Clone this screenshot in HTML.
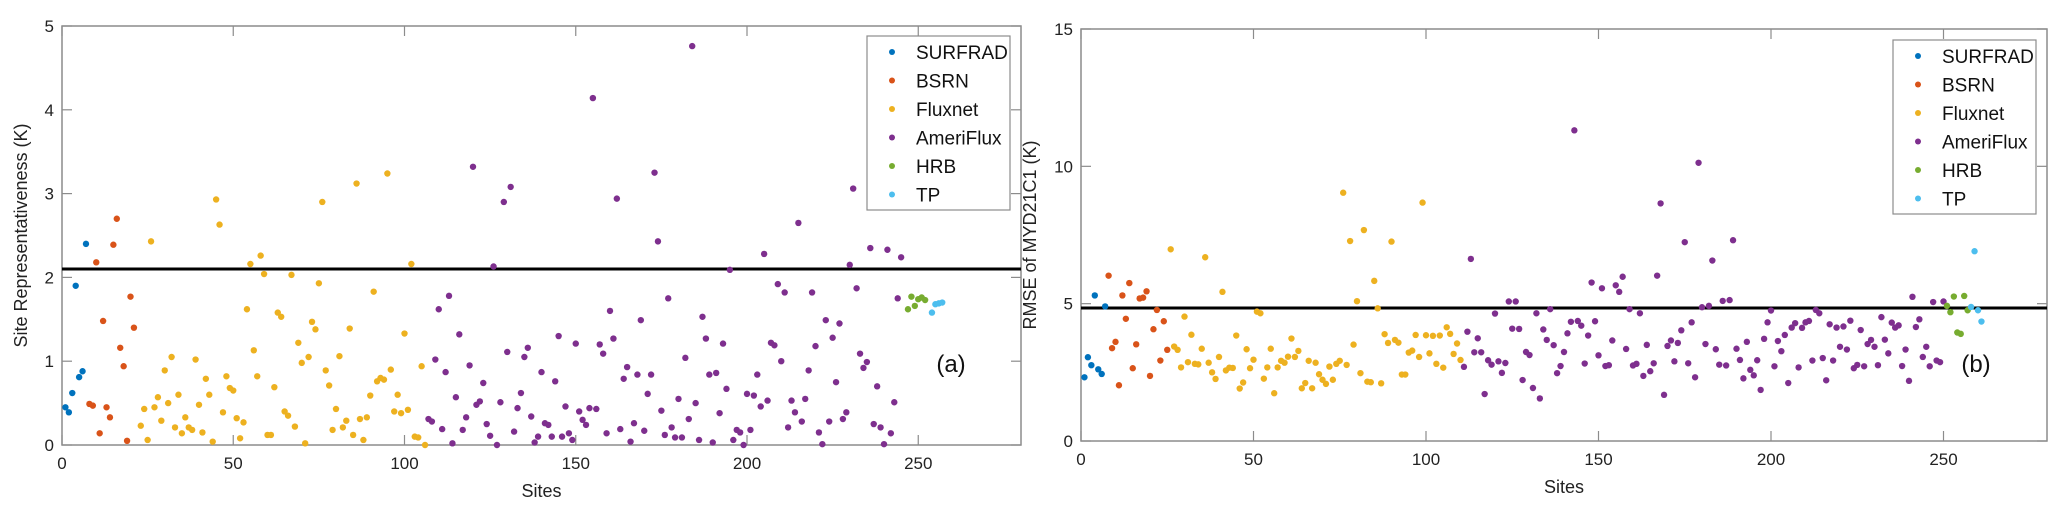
<!DOCTYPE html>
<html><head><meta charset="utf-8"><style>
html,body{margin:0;padding:0;background:#fff;}
svg{display:block;font-family:"Liberation Sans",sans-serif;}
</style></head><body>
<svg id="chart" width="2067" height="515" viewBox="0 0 2067 515"></svg>
<script>
// ---- Panel (a) data: site representativeness ----
const seriesNames = ["SURFRAD","BSRN","Fluxnet","AmeriFlux","HRB","TP"];
const seriesColors = ["#0072BD","#D95319","#EDB120","#7E2F8E","#77AC30","#4DBEEE"];
const aStarts = [1,8,23,107,247,254];
const aSurfrad = [0.45,0.39,0.62,1.9,0.81,0.88,2.4];
const aBsrn = [0.49,0.47,2.18,0.14,1.48,0.45,0.33,2.39,2.7,1.16,0.94,0.05,1.77,1.4];
const aFluxnet = [0.23,0.43,0.06,2.43,0.45,0.57,0.29,0.89,0.5,1.05,0.21,0.6,0.14,0.33,0.21,0.18,1.02,0.48,0.15,0.79,0.6,0.04,2.93,2.63,0.39,0.82,0.68,0.65,0.32,0.08,0.27,1.62,2.16,1.13,0.82,2.26,2.04,0.12,0.12,0.69,1.58,1.53,0.4,0.35,2.03,0.22,1.22,0.98,0.02,1.05,1.47,1.38,1.93,2.9,0.89,0.71,0.18,0.43,1.06,0.21,0.29,1.39,0.12,3.12,0.31,0.06,0.33,0.59,1.83,0.76,0.8,0.78,3.24,0.9,0.4,0.6,0.38,1.33,0.42,2.16,0.1,0.09,0.94,0.0];
const aAmeriflux = [0.31,0.28,1.02,1.62,0.19,0.87,1.78,0.02,0.57,1.32,0.18,0.33,0.95,3.32,0.48,0.52,0.74,0.25,0.11,2.13,0.0,0.51,2.9,1.11,3.08,0.16,0.44,0.62,1.05,1.16,0.34,0.03,0.1,0.87,0.26,0.24,0.1,0.76,1.3,0.1,0.46,0.14,0.06,1.21,0.4,0.3,0.24,0.44,4.14,0.43,1.2,1.09,0.14,1.6,1.27,2.94,0.19,0.79,0.93,0.04,0.26,0.84,1.49,0.17,0.61,0.84,3.25,2.43,0.41,0.12,1.75,0.21,0.09,0.55,0.09,1.04,0.31,4.76,0.5,0.06,1.53,1.27,0.84,0.03,0.86,0.38,1.21,0.67,2.09,0.06,0.18,0.15,0.0,0.61,0.18,0.59,0.84,0.46,2.28,0.53,1.22,1.19,1.92,1.0,1.82,0.21,0.53,0.39,2.65,0.28,0.55,0.89,1.82,1.18,0.15,0.01,1.49,0.28,1.28,0.75,1.45,0.31,0.39,2.15,3.06,1.87,1.09,0.92,0.99,2.35,0.25,0.7,0.21,0.01,2.33,0.14,0.51,1.75,2.24];
const aHrb = [1.62,1.77,1.66,1.74,1.76,1.73];
const aTp = [1.58,1.68,1.69,1.70];
const aThreshold = 2.1;
const aYTicks = [0,1,2,3,4,5];

// ---- Panel (b) data: RMSE of MYD21C1 ----
const bStarts = [1,8,26,111,251,258];
const bSurfrad = [2.32,3.05,2.76,5.3,2.61,2.44,4.9];
const bBsrn = [6.02,3.38,3.61,2.03,5.3,4.45,5.75,2.65,3.52,5.19,5.22,5.45,2.37,4.07,4.77,2.93,4.36,3.32];
const bFluxnet = [6.98,3.44,3.32,2.68,4.53,2.87,3.87,2.81,2.79,3.36,6.69,2.85,2.5,2.26,3.06,5.43,2.57,2.67,2.66,3.84,1.91,2.13,3.34,2.65,2.96,4.71,4.65,2.27,2.68,3.36,1.74,2.68,2.92,2.85,3.07,3.73,3.06,3.28,1.92,2.11,2.92,1.92,2.85,2.43,2.23,2.08,2.71,2.23,2.81,2.92,9.04,2.77,7.28,3.51,5.09,2.47,7.68,2.16,2.14,5.83,4.83,2.1,3.89,3.57,7.26,3.68,3.58,2.42,2.42,3.22,3.29,3.86,3.06,8.68,3.85,3.19,3.83,2.81,3.84,2.67,4.14,3.9,3.17,3.55,2.95];
const bAmeriflux = [2.7,3.98,6.63,3.23,3.74,3.23,1.71,2.94,2.78,4.64,2.9,2.48,2.84,5.08,4.09,5.08,4.08,2.22,3.24,3.13,1.93,4.65,1.55,4.06,3.68,4.8,3.49,2.47,2.73,3.24,3.92,4.34,11.31,4.37,4.2,2.82,3.84,5.77,4.36,3.12,5.56,2.73,2.76,3.66,5.67,5.43,5.98,3.35,4.8,2.75,2.81,4.65,2.37,3.5,2.54,2.83,6.02,8.65,1.68,3.46,3.66,2.9,3.57,4.03,7.24,2.83,4.32,2.32,10.13,4.87,3.53,4.92,6.57,3.34,2.78,5.1,2.75,5.13,7.31,3.36,2.95,2.28,3.61,2.59,2.39,2.94,1.86,3.72,4.32,4.75,2.72,3.64,3.27,3.86,2.11,4.13,4.29,2.68,4.12,4.32,4.37,2.93,4.77,4.65,3.02,2.21,4.25,2.93,4.13,3.43,4.17,3.33,4.38,2.65,2.77,4.04,2.72,3.53,3.68,3.43,2.76,4.51,3.69,3.19,4.31,4.13,4.21,2.73,3.33,2.19,5.25,4.15,4.43,3.06,3.43,2.72,5.06,2.93,2.87,5.08];
const bHrb = [4.92,4.69,5.26,3.95,3.9,5.28,4.76];
const bTp = [4.88,6.91,4.76,4.35];
const bThreshold = 4.84;
const bYTicks = [0,5,10,15];

const xTicks = [0,50,100,150,200,250];

const NS = "http://www.w3.org/2000/svg";
const svg = document.getElementById("chart");
function mk(tag, attrs, parent){
  const e = document.createElementNS(NS, tag);
  for (const k in attrs) e.setAttribute(k, attrs[k]);
  (parent||svg).appendChild(e);
  return e;
}

function drawPanel(p){
  const g = mk("g", {});
  
  
  const xs = v => p.left + (v - 0) / 280 * (p.right - p.left);
  const ys = v => p.bottom - v / p.ymax * (p.bottom - p.top);
  // frame
  const fr = mk("rect", {x:p.left, y:p.top, width:p.right-p.left, height:p.bottom-p.top, fill:"none", stroke:"#8c8c8c", "stroke-width":1.5}, g);
  
  
  // x ticks
  xTicks.forEach(t => {
    const x = xs(t);
    mk("line", {x1:x, x2:x, y1:p.bottom, y2:p.bottom-10, stroke:"#8c8c8c", "stroke-width":1.2}, g);
    mk("line", {x1:x, x2:x, y1:p.top, y2:p.top+10, stroke:"#8c8c8c", "stroke-width":1.2}, g);
    const tl = mk("text", {x:x, y:p.bottom+24, "text-anchor":"middle", "font-size":17, fill:"#222"}, g);
    tl.textContent = t;
    
    
  });
  p.yTicks.forEach(t => {
    const y = ys(t);
    mk("line", {x1:p.left, x2:p.left+10, y1:y, y2:y, stroke:"#8c8c8c", "stroke-width":1.2}, g);
    mk("line", {x1:p.right, x2:p.right-10, y1:y, y2:y, stroke:"#8c8c8c", "stroke-width":1.2}, g);
    const tl = mk("text", {x:p.left-8, y:y+6, "text-anchor":"end", "font-size":17, fill:"#222"}, g);
    tl.textContent = t;
    
    
  });
  // axis titles
  const xt = mk("text", {x:(p.left+p.right)/2, y:p.bottom+52, "text-anchor":"middle", "font-size":18, fill:"#222"}, g);
  xt.textContent = "Sites";
  
  
  const cy = (p.top+p.bottom)/2;
  const yt = mk("text", {x:p.ylabelX, y:cy, "text-anchor":"middle", "font-size":18, fill:"#222", transform:`rotate(-90 ${p.ylabelX} ${cy})`}, g);
  yt.textContent = p.ylabel;
  
  
  // threshold line
  const hl = mk("line", {x1:p.left, x2:p.right, y1:ys(p.threshold), y2:ys(p.threshold), stroke:"#000", "stroke-width":3}, g);
  
  
  // points
  p.series.forEach((vals, si) => {
    const sg = mk("g", {fill:seriesColors[si]}, g);
    
    
    vals.forEach((v, i) => {
      const c = mk("circle", {cx:xs(p.starts[si]+i), cy:ys(v), r:3.2}, sg);
      
      
    });
  });
  // legend
  const lg = mk("g", {}, g);
  
  
  mk("rect", {x:p.legX, y:p.legY, width:143, height:174, fill:"#fff", stroke:"#8c8c8c", "stroke-width":1.2}, lg);
  seriesNames.forEach((n, i) => {
    const ry = p.legY + 16 + i*28.5;
    const eg = mk("g", {}, lg);
    
    
    mk("circle", {cx:p.legX+25, cy:ry, r:3, fill:seriesColors[i]}, eg);
    const t = mk("text", {x:p.legX+49, y:ry+7, "font-size":19, fill:"#111"}, eg);
    t.textContent = n;
  });
  const pl = mk("text", {x:p.tagX, y:372, "text-anchor":"middle", "font-size":24, fill:"#111"}, g);
  pl.textContent = p.tag;
  
  
}

drawPanel({id:"panel-a", left:62, right:1021, top:26, bottom:445, ymax:5, yTicks:aYTicks,
  threshold:aThreshold, starts:aStarts, series:[aSurfrad,aBsrn,aFluxnet,aAmeriflux,aHrb,aTp],
  ylabel:"Site Representativeness (K)", ylabelX:27, legX:867, legY:36, tag:"(a)", tagX:951});
drawPanel({id:"panel-b", left:1081, right:2047, top:29, bottom:441, ymax:15, yTicks:bYTicks,
  threshold:bThreshold, starts:bStarts, series:[bSurfrad,bBsrn,bFluxnet,bAmeriflux,bHrb,bTp],
  ylabel:"RMSE of MYD21C1 (K)", ylabelX:1036, legX:1893, legY:40, tag:"(b)", tagX:1976});
</script>
</body></html>
